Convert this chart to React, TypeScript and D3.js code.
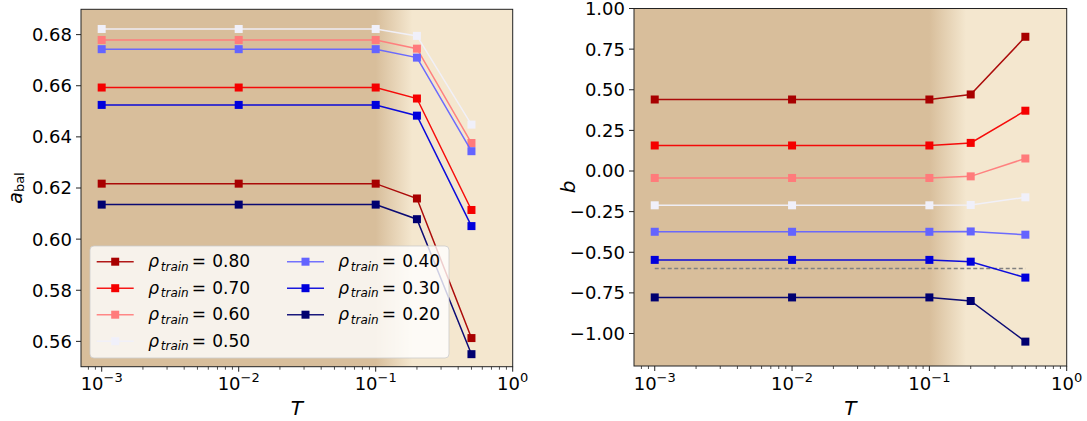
import React from "react";
import * as d3 from "d3";

const T = [0.001, 0.01, 0.1, 0.2, 0.5];
const rhoLabels = ["0.80", "0.70", "0.60", "0.50", "0.40", "0.30", "0.20"];
const seriesColors = ["#a80000", "#f50000", "#ff7b7b", "#f0f0fa", "#6464ff", "#0000dc", "#000070"];

const aBal08 = [0.6217, 0.6217, 0.6217, 0.6159, 0.5613];
const aBal07 = [0.6593, 0.6593, 0.6593, 0.655, 0.6114];
const aBal06 = [0.6779, 0.6779, 0.6779, 0.6745, 0.6376];
const aBal05 = [0.6822, 0.6822, 0.6822, 0.6795, 0.6448];
const aBal04 = [0.6743, 0.6743, 0.6743, 0.671, 0.6344];
const aBal03 = [0.6525, 0.6525, 0.6525, 0.6483, 0.6051];
const aBal02 = [0.6135, 0.6135, 0.6135, 0.6078, 0.555];
const aBalSeries = [aBal08, aBal07, aBal06, aBal05, aBal04, aBal03, aBal02];

const b08 = [0.44, 0.44, 0.44, 0.471, 0.826];
const b07 = [0.157, 0.157, 0.157, 0.173, 0.371];
const b06 = [-0.043, -0.043, -0.043, -0.033, 0.077];
const b05 = [-0.211, -0.211, -0.211, -0.209, -0.162];
const b04 = [-0.374, -0.374, -0.374, -0.372, -0.392];
const b03 = [-0.547, -0.547, -0.547, -0.558, -0.656];
const b02 = [-0.778, -0.778, -0.778, -0.8, -1.05];
const bSeries = [b08, b07, b06, b05, b04, b03, b02];

const refLineB = -0.6;
const refLineT = [0.001, 0.5];

const xMajorExp = [-3, -2, -1, 0];
const leftYTicks = [0.56, 0.58, 0.6, 0.62, 0.64, 0.66, 0.68];
const rightYTicks = [-1.0, -0.75, -0.5, -0.25, 0.0, 0.25, 0.5, 0.75, 1.0];

const xDomain = [Math.pow(10, -3.151), 1];
const shadeStartT = 0.1;
const shadeEndT = 0.185;
const DARK = "#d8be9b";
const LIGHT = "#f4e7cf";

const FONT = "'DejaVu Sans', sans-serif";

function minorTicks(dom: number[]) {
  const out: number[] = [];
  for (let e = -4; e <= 0; e++) {
    for (let k = 2; k <= 9; k++) {
      const v = k * Math.pow(10, e);
      if (v >= dom[0] && v <= dom[1]) out.push(v);
    }
  }
  return out;
}

type PanelProps = {
  id: string;
  x0: number;
  x1: number;
  y0: number;
  y1: number;
  yDomain: number[];
  yTicks: number[];
  yFmt: (v: number) => string;
  series: number[][];
  yLabel: React.ReactNode;
  children?: React.ReactNode;
  extra?: (x: any, y: any) => React.ReactNode;
};

function Panel(p: PanelProps) {
  const x = d3.scaleLog().domain(xDomain).range([p.x0, p.x1]);
  const y = d3.scaleLinear().domain(p.yDomain).range([p.y1, p.y0]);
  const line = d3
    .line<number>()
    .x((_, i) => x(T[i]))
    .y((d) => y(d));
  const gid = "grad-" + p.id;
  const cid = "clip-" + p.id;
  return (
    <g>
      <defs>
        <linearGradient id={gid} gradientUnits="userSpaceOnUse" x1={x(shadeStartT)} x2={x(shadeEndT)} y1={0} y2={0}>
          <stop offset="0" stopColor={DARK} />
          <stop offset="1" stopColor={LIGHT} />
        </linearGradient>
        <clipPath id={cid}>
          <rect x={p.x0} y={p.y0} width={p.x1 - p.x0} height={p.y1 - p.y0} />
        </clipPath>
      </defs>
      <rect x={p.x0} y={p.y0} width={p.x1 - p.x0} height={p.y1 - p.y0} fill={`url(#${gid})`} />
      <g clipPath={`url(#${cid})`}>
        {p.extra && p.extra(x, y)}
        {p.series.map((s, i) => (
          <g key={i}>
            <path d={line(s) || ""} fill="none" stroke={seriesColors[i]} strokeWidth={1.5} strokeOpacity={0.95} />
            {s.map((v, j) => (
              <rect key={j} x={x(T[j]) - 4} y={y(v) - 4} width={8} height={8} fill={seriesColors[i]} />
            ))}
          </g>
        ))}
      </g>
      {p.children}
      <rect x={p.x0} y={p.y0} width={p.x1 - p.x0} height={p.y1 - p.y0} fill="none" stroke="#222" strokeWidth={1} />
      {p.yTicks.map((t) => (
        <g key={t}>
          <line x1={p.x0 - 5} x2={p.x0} y1={y(t)} y2={y(t)} stroke="#222" strokeWidth={1} />
          <text x={p.x0 - 9} y={y(t)} dy="0.36em" textAnchor="end" fontFamily={FONT} fontSize={18} fill="#000">
            {p.yFmt(t)}
          </text>
        </g>
      ))}
      {minorTicks(xDomain).map((t) => (
        <line key={"m" + t} x1={x(t)} x2={x(t)} y1={p.y1} y2={p.y1 + 3} stroke="#222" strokeWidth={0.8} />
      ))}
      {xMajorExp.map((e) => (
        <g key={e}>
          <line x1={x(Math.pow(10, e))} x2={x(Math.pow(10, e))} y1={p.y1} y2={p.y1 + 5} stroke="#222" strokeWidth={1} />
          <text x={x(Math.pow(10, e))} y={390} textAnchor="middle" fontFamily={FONT} fontSize={18} fill="#000">
            <tspan>10</tspan>
            <tspan dy={-8} fontSize={13}>
              {e < 0 ? "\u2212" + Math.abs(e) : String(e)}
            </tspan>
          </text>
        </g>
      ))}
      <text x={(p.x0 + p.x1) / 2} y={415} textAnchor="middle" fontFamily={FONT} fontSize={20} fontStyle="italic" fill="#000">
        T
      </text>
      {p.yLabel}
    </g>
  );
}

function Legend() {
  const bx = 90;
  const by = 246;
  const rowY0 = 261.7;
  const rowDy = 26.5;
  const cols = [
    { handle: 96.7, text: 148.3 },
    { handle: 287, text: 338.3 },
  ];
  const items = rhoLabels.map((lab, i) => {
    const col = i < 4 ? 0 : 1;
    const row = i < 4 ? i : i - 4;
    return { lab, i, col, row };
  });
  return (
    <g>
      <rect x={bx} y={by} width={359} height={112} rx={4} fill="#ffffff" fillOpacity={0.8} stroke="#cccccc" strokeOpacity={0.8} strokeWidth={1} />
      {items.map(({ lab, i, col, row }) => {
        const cy = rowY0 + row * rowDy;
        const hx = cols[col].handle;
        const tx = cols[col].text;
        return (
          <g key={i}>
            <line x1={hx} x2={hx + 37} y1={cy} y2={cy} stroke={seriesColors[i]} strokeWidth={1.5} strokeOpacity={0.9} />
            <rect x={hx + 18.5 - 4} y={cy - 4} width={8} height={8} fill={seriesColors[i]} />
            <text y={cy + 5.5} fontFamily={FONT} fontSize={17} fill="#000">
              <tspan x={tx} fontStyle="italic">ρ</tspan>
              <tspan x={tx + 12.5} dy={3.5} fontSize={12} fontStyle="italic">train</tspan>
              <tspan x={tx + 43.5} dy={-3.5}>=</tspan>
              <tspan x={tx + 64}>{lab}</tspan>
            </text>
          </g>
        );
      })}
    </g>
  );
}

const fmtLeft = (v: number) => d3.format(".2f")(v);
const fmtRight = (v: number) => d3.format(".2f")(v).replace("-", "\u2212");

export default function App() {
  return (
    <svg
      width={1087}
      height={421}
      viewBox="0 0 1087 421"
      style={{ position: "absolute", left: 0, top: 0, background: "#fff" }}
    >
      <rect x={0} y={0} width={1087} height={421} fill="#fff" />
      <Panel
        id="left"
        x0={81}
        x1={512.7}
        y0={9.3}
        y1={366.7}
        yDomain={[0.5501, 0.6899]}
        yTicks={leftYTicks}
        yFmt={fmtLeft}
        series={aBalSeries}
        yLabel={
          <text transform="translate(21.7,188) rotate(-90)" textAnchor="middle" fontFamily={FONT} fill="#000">
            <tspan fontSize={19} fontStyle="italic">a</tspan>
            <tspan fontSize={13} dy={2}>bal</tspan>
          </text>
        }
      >
        <Legend />
      </Panel>
      <Panel
        id="right"
        x0={634}
        x1={1066.7}
        y0={8.5}
        y1={366}
        yDomain={[-1.2, 1.0]}
        yTicks={rightYTicks}
        yFmt={fmtRight}
        series={bSeries}
        extra={(x, y) => (
          <line
            x1={x(refLineT[0])}
            x2={x(refLineT[1])}
            y1={y(refLineB)}
            y2={y(refLineB)}
            stroke="#808080"
            strokeWidth={1.3}
            strokeDasharray="4,2.5"
          />
        )}
        yLabel={
          <text transform="translate(575,187) rotate(-90)" textAnchor="middle" fontFamily={FONT} fontSize={20} fontStyle="italic" fill="#000">
            b
          </text>
        }
      />
    </svg>
  );
}
